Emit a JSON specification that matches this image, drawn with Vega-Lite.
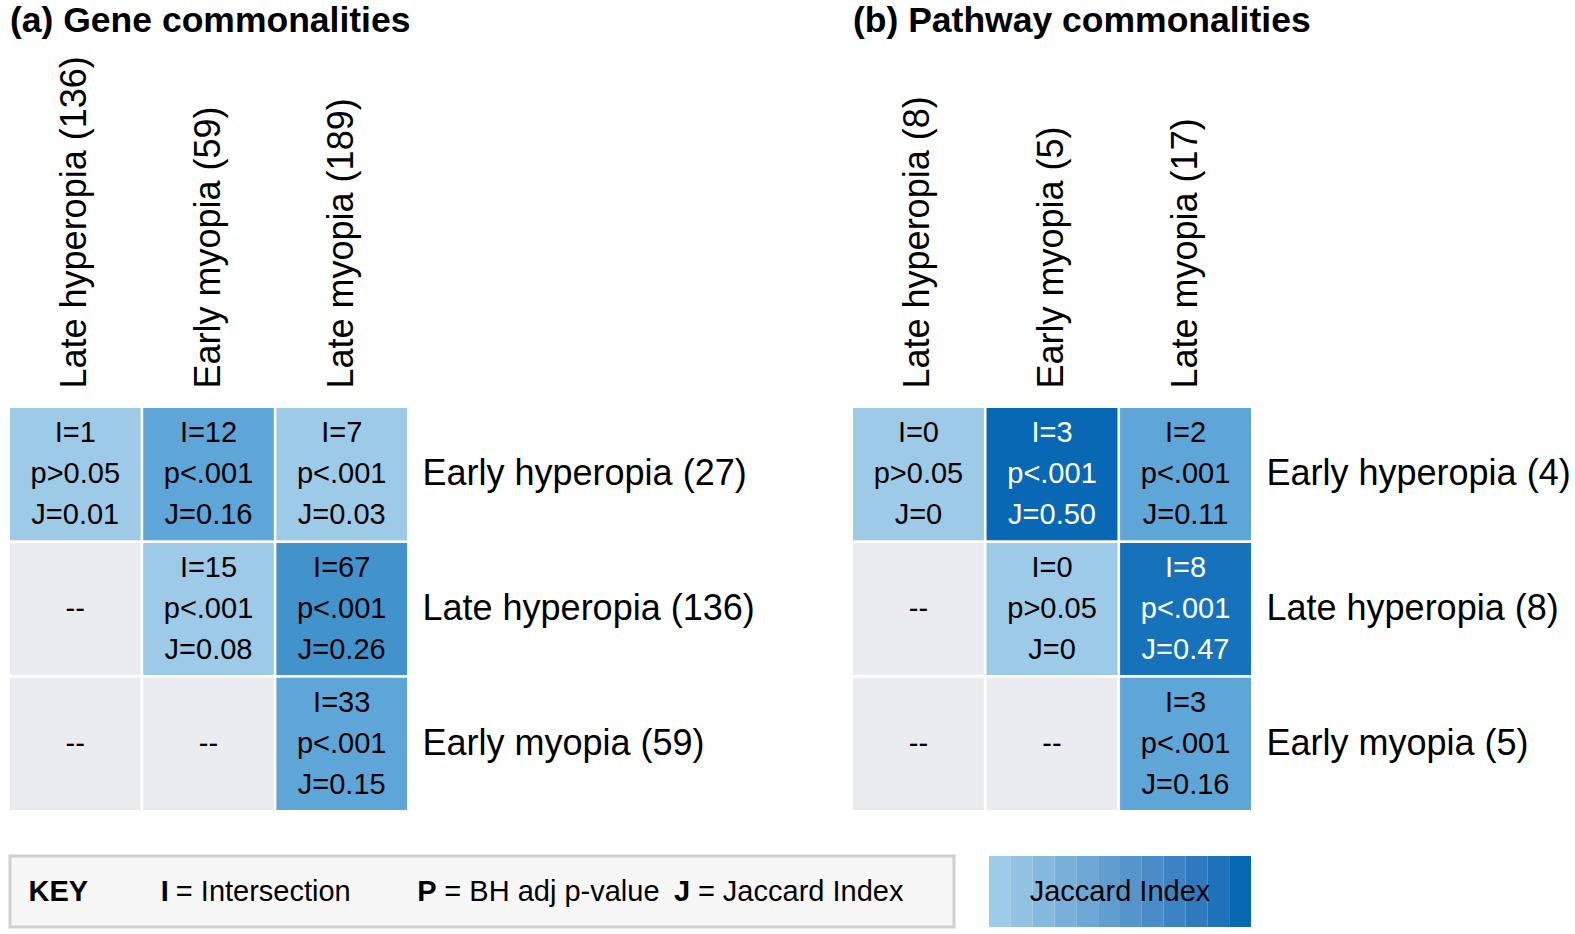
{
  "$schema": "https://vega.github.io/schema/vega-lite/v6.json",
  "padding": {"left": 8, "top": 4, "right": 5, "bottom": 5},
  "background": "white",
  "config": {"font": "Liberation Sans", "view": {"stroke": null}},
  "datasets": {
    "genes": [
      {"row": "Early hyperopia (27)", "col": "Late hyperopia (136)", "I": 1, "p": "p>0.05", "J": 0.01, "Jt": "0.01"},
      {"row": "Early hyperopia (27)", "col": "Early myopia (59)", "I": 12, "p": "p<.001", "J": 0.16, "Jt": "0.16"},
      {"row": "Early hyperopia (27)", "col": "Late myopia (189)", "I": 7, "p": "p<.001", "J": 0.03, "Jt": "0.03"},
      {"row": "Late hyperopia (136)", "col": "Late hyperopia (136)", "I": null, "p": null, "J": null, "Jt": null},
      {"row": "Late hyperopia (136)", "col": "Early myopia (59)", "I": 15, "p": "p<.001", "J": 0.08, "Jt": "0.08"},
      {"row": "Late hyperopia (136)", "col": "Late myopia (189)", "I": 67, "p": "p<.001", "J": 0.26, "Jt": "0.26"},
      {"row": "Early myopia (59)", "col": "Late hyperopia (136)", "I": null, "p": null, "J": null, "Jt": null},
      {"row": "Early myopia (59)", "col": "Early myopia (59)", "I": null, "p": null, "J": null, "Jt": null},
      {"row": "Early myopia (59)", "col": "Late myopia (189)", "I": 33, "p": "p<.001", "J": 0.15, "Jt": "0.15"}
    ],
    "pathways": [
      {"row": "Early hyperopia (4)", "col": "Late hyperopia (8)", "I": 0, "p": "p>0.05", "J": 0, "Jt": "0"},
      {"row": "Early hyperopia (4)", "col": "Early myopia (5)", "I": 3, "p": "p<.001", "J": 0.50, "Jt": "0.50"},
      {"row": "Early hyperopia (4)", "col": "Late myopia (17)", "I": 2, "p": "p<.001", "J": 0.11, "Jt": "0.11"},
      {"row": "Late hyperopia (8)", "col": "Late hyperopia (8)", "I": null, "p": null, "J": null, "Jt": null},
      {"row": "Late hyperopia (8)", "col": "Early myopia (5)", "I": 0, "p": "p>0.05", "J": 0, "Jt": "0"},
      {"row": "Late hyperopia (8)", "col": "Late myopia (17)", "I": 8, "p": "p<.001", "J": 0.47, "Jt": "0.47"},
      {"row": "Early myopia (5)", "col": "Late hyperopia (8)", "I": null, "p": null, "J": null, "Jt": null},
      {"row": "Early myopia (5)", "col": "Early myopia (5)", "I": null, "p": null, "J": null, "Jt": null},
      {"row": "Early myopia (5)", "col": "Late myopia (17)", "I": 3, "p": "p<.001", "J": 0.16, "Jt": "0.16"}
    ],
    "key": [
      {"sym": "I", "desc": "Intersection"},
      {"sym": "P", "desc": "BH adj p-value"},
      {"sym": "J", "desc": "Jaccard Index"}
    ],
    "legend": [
      {"v": 0.02}, {"v": 0.06}, {"v": 0.10}, {"v": 0.14}, {"v": 0.18}, {"v": 0.22},
      {"v": 0.26}, {"v": 0.30}, {"v": 0.34}, {"v": 0.38}, {"v": 0.42}, {"v": 0.46}
    ]
  },
  "spacing": 44,
  "vconcat": [
    {
      "bounds": "flush",
      "spacing": 446,
      "hconcat": [
        {
          "title": {"text": "(a) Gene commonalities", "anchor": "start", "fontSize": 35.5, "fontWeight": "bold", "offset": 16, "color": "black", "font": "Liberation Sans"},
          "width": 397,
          "height": 402,
          "data": {"name": "genes"},
          "encoding": {
            "x": {"field": "col", "type": "nominal", "sort": ["Late hyperopia (136)", "Early myopia (59)", "Late myopia (189)"],
                  "scale": {"paddingInner": 0.02, "paddingOuter": 0},
                  "axis": {"orient": "top", "labelAngle": -90, "labelAlign": "left", "labelBaseline": "middle", "labelPadding": 20, "labelFontSize": 36, "labelLimit": 800, "ticks": false, "domain": false, "title": null, "labelColor": "black"}},
            "y": {"field": "row", "type": "nominal", "sort": ["Early hyperopia (27)", "Late hyperopia (136)", "Early myopia (59)"],
                  "scale": {"paddingInner": 0.02, "paddingOuter": 0},
                  "axis": {"orient": "right", "labelAlign": "left", "labelBaseline": "middle", "labelPadding": 15, "labelFontSize": 36, "labelLimit": 800, "ticks": false, "domain": false, "title": null, "labelColor": "black"}}
          },
          "layer": [
            {"mark": {"type": "rect", "color": "#ebecf0"}},
            {"transform": [{"filter": "datum.J !== null"}],
             "mark": {"type": "rect"},
             "encoding": {"color": {"field": "J", "type": "quantitative",
                                     "scale": {"type": "threshold", "domain": [0.1, 0.2, 0.4, 0.49], "range": ["#9dcae6", "#5ea5d8", "#4292cc", "#1672ba", "#0868b4"]}, "legend": null}}},
            {"transform": [{"filter": "datum.I !== null"}],
             "mark": {"type": "text", "fontSize": 29, "lineHeight": 41, "baseline": "middle", "dy": -41, "text": {"expr": "['I=' + datum.I, datum.p, 'J=' + datum.Jt]"}},
             "encoding": {"color": {"condition": {"test": "datum.J > 0.4", "value": "white"}, "value": "black"}}},
            {"transform": [{"filter": "datum.I === null"}],
             "mark": {"type": "text", "fontSize": 29, "baseline": "middle", "color": "black", "text": "--"}}
          ]
        },
        {
          "title": {"text": "(b) Pathway commonalities", "anchor": "start", "fontSize": 35.5, "fontWeight": "bold", "offset": 56, "color": "black", "font": "Liberation Sans"},
          "width": 398,
          "height": 402,
          "data": {"name": "pathways"},
          "encoding": {
            "x": {"field": "col", "type": "nominal", "sort": ["Late hyperopia (8)", "Early myopia (5)", "Late myopia (17)"],
                  "scale": {"paddingInner": 0.02, "paddingOuter": 0},
                  "axis": {"orient": "top", "labelAngle": -90, "labelAlign": "left", "labelBaseline": "middle", "labelPadding": 20, "labelFontSize": 36, "labelLimit": 800, "ticks": false, "domain": false, "title": null, "labelColor": "black"}},
            "y": {"field": "row", "type": "nominal", "sort": ["Early hyperopia (4)", "Late hyperopia (8)", "Early myopia (5)"],
                  "scale": {"paddingInner": 0.02, "paddingOuter": 0},
                  "axis": {"orient": "right", "labelAlign": "left", "labelBaseline": "middle", "labelPadding": 15, "labelFontSize": 36, "labelLimit": 800, "ticks": false, "domain": false, "title": null, "labelColor": "black"}}
          },
          "layer": [
            {"mark": {"type": "rect", "color": "#ebecf0"}},
            {"transform": [{"filter": "datum.J !== null"}],
             "mark": {"type": "rect"},
             "encoding": {"color": {"field": "J", "type": "quantitative",
                                     "scale": {"type": "threshold", "domain": [0.1, 0.2, 0.4, 0.49], "range": ["#9dcae6", "#5ea5d8", "#4292cc", "#1672ba", "#0868b4"]}, "legend": null}}},
            {"transform": [{"filter": "datum.I !== null"}],
             "mark": {"type": "text", "fontSize": 29, "lineHeight": 41, "baseline": "middle", "dy": -41, "text": {"expr": "['I=' + datum.I, datum.p, 'J=' + datum.Jt]"}},
             "encoding": {"color": {"condition": {"test": "datum.J > 0.4", "value": "white"}, "value": "black"}}},
            {"transform": [{"filter": "datum.I === null"}],
             "mark": {"type": "text", "fontSize": 29, "baseline": "middle", "color": "black", "text": "--"}}
          ]
        }
      ]
    },
    {
      "bounds": "flush",
      "spacing": 35,
      "hconcat": [
        {
          "width": 944,
          "height": 71,
          "view": {"fill": "#f7f7f7", "stroke": "#d0d0d0", "strokeWidth": 3},
          "data": {"name": "key"},
          "encoding": {
            "x": {"field": "sym", "type": "nominal", "sort": null, "scale": {"type": "point", "padding": 0.84, "align": 0.35}, "axis": null},
            "y": {"datum": "KEY", "type": "nominal", "axis": {"orient": "left", "labelAlign": "left", "labelBaseline": "middle", "labelPadding": -18, "ticks": false, "tickSize": 0, "domain": false, "labelFontSize": 29, "labelFontWeight": "bold", "labelColor": "black", "title": null}}
          },
          "layer": [
            {"mark": {"type": "text", "align": "left", "baseline": "middle", "fontSize": 29, "fontWeight": "bold", "color": "black"}, "encoding": {"text": {"field": "sym"}}},
            {"mark": {"type": "text", "align": "left", "baseline": "middle", "fontSize": 29, "color": "black",
                      "dx": {"expr": "datum.sym === 'I' ? 15 : datum.sym === 'P' ? 27 : 24"},
                      "text": {"expr": "'= ' + datum.desc"}}}
          ]
        },
        {
          "width": 262,
          "height": 71,
          "layer": [
            {"data": {"name": "legend"},
             "mark": {"type": "rect"},
             "encoding": {"x": {"field": "v", "type": "ordinal", "axis": null, "scale": {"paddingInner": 0, "paddingOuter": 0}},
                          "fill": {"field": "v", "type": "quantitative", "scale": {"domain": [0.02, 0.46], "range": ["#9ecbe8", "#0868b4"]}, "legend": null}}},
            {"data": {"values": [{"label": "Jaccard Index"}]},
             "mark": {"type": "text", "fontSize": 29, "color": "black", "baseline": "middle"},
             "encoding": {"text": {"field": "label"}}}
          ]
        }
      ]
    }
  ]
}
